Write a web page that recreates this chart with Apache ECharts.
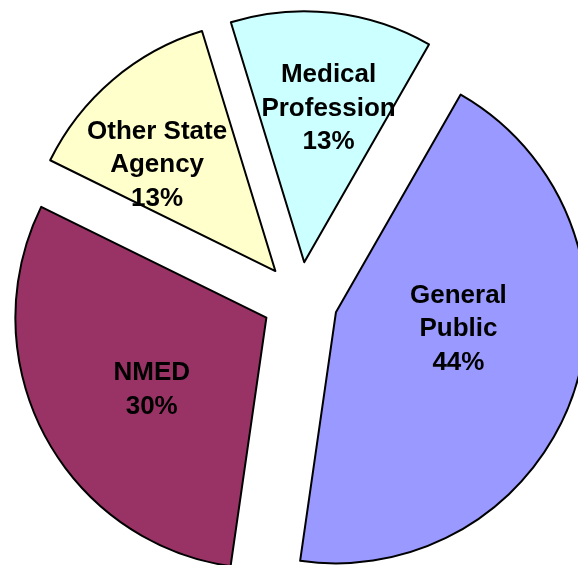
<!DOCTYPE html>
<html>
<head>
<meta charset="utf-8">
<script src="https://cdn.jsdelivr.net/npm/echarts@6/dist/echarts.min.js"></script>
<style>
html,body{margin:0;padding:0;background:#fff;}
#chart{width:578px;height:565px;}
</style>
</head>
<body>
<div id="chart"></div>
<script>
// Data
var categories = ['Medical Profession', 'General Public', 'NMED', 'Other State Agency'];
var labelText = ['Medical\nProfession', 'General\nPublic', 'NMED', 'Other State\nAgency'];
var values = [13, 44, 30, 13];

// Styles
var colors = ['#CCFFFF', '#9999FF', '#993366', '#FFFFCC'];
var labelShift = [[10, -26], [1, -25], [-1, 12], [-35, -8]];

var chart = echarts.init(document.getElementById('chart'), null, {renderer: 'canvas'});
var data = categories.map(function (c, i) {
  return {
    name: c,
    value: values[i],
    selected: true,
    itemStyle: {color: colors[i]}
  };
});

chart.setOption({
  animation: false,
  backgroundColor: '#ffffff',
  series: [{
    type: 'pie',
    center: [300, 300],
    radius: [0, 251],
    startAngle: 107,
    clockwise: true,
    selectedMode: 'multiple',
    selectedOffset: 38,
    percentPrecision: 0,
    avoidLabelOverlap: false,
    silent: true,
    itemStyle: {borderColor: '#000000', borderWidth: 2},
    label: {
      show: true,
      position: 'inside',
      color: '#000000',
      fontFamily: 'Liberation Sans, Arial, sans-serif',
      fontWeight: 'bold',
      fontSize: 26,
      lineHeight: 33.5,
      align: 'center',
      formatter: function (p) {
        return labelText[p.dataIndex] + '\n' + p.percent + '%';
      }
    },
    labelLine: {show: false},
    labelLayout: function (p) {
      return {dx: labelShift[p.dataIndex][0], dy: labelShift[p.dataIndex][1]};
    },
    data: data
  }]
});
</script>
</body>
</html>
